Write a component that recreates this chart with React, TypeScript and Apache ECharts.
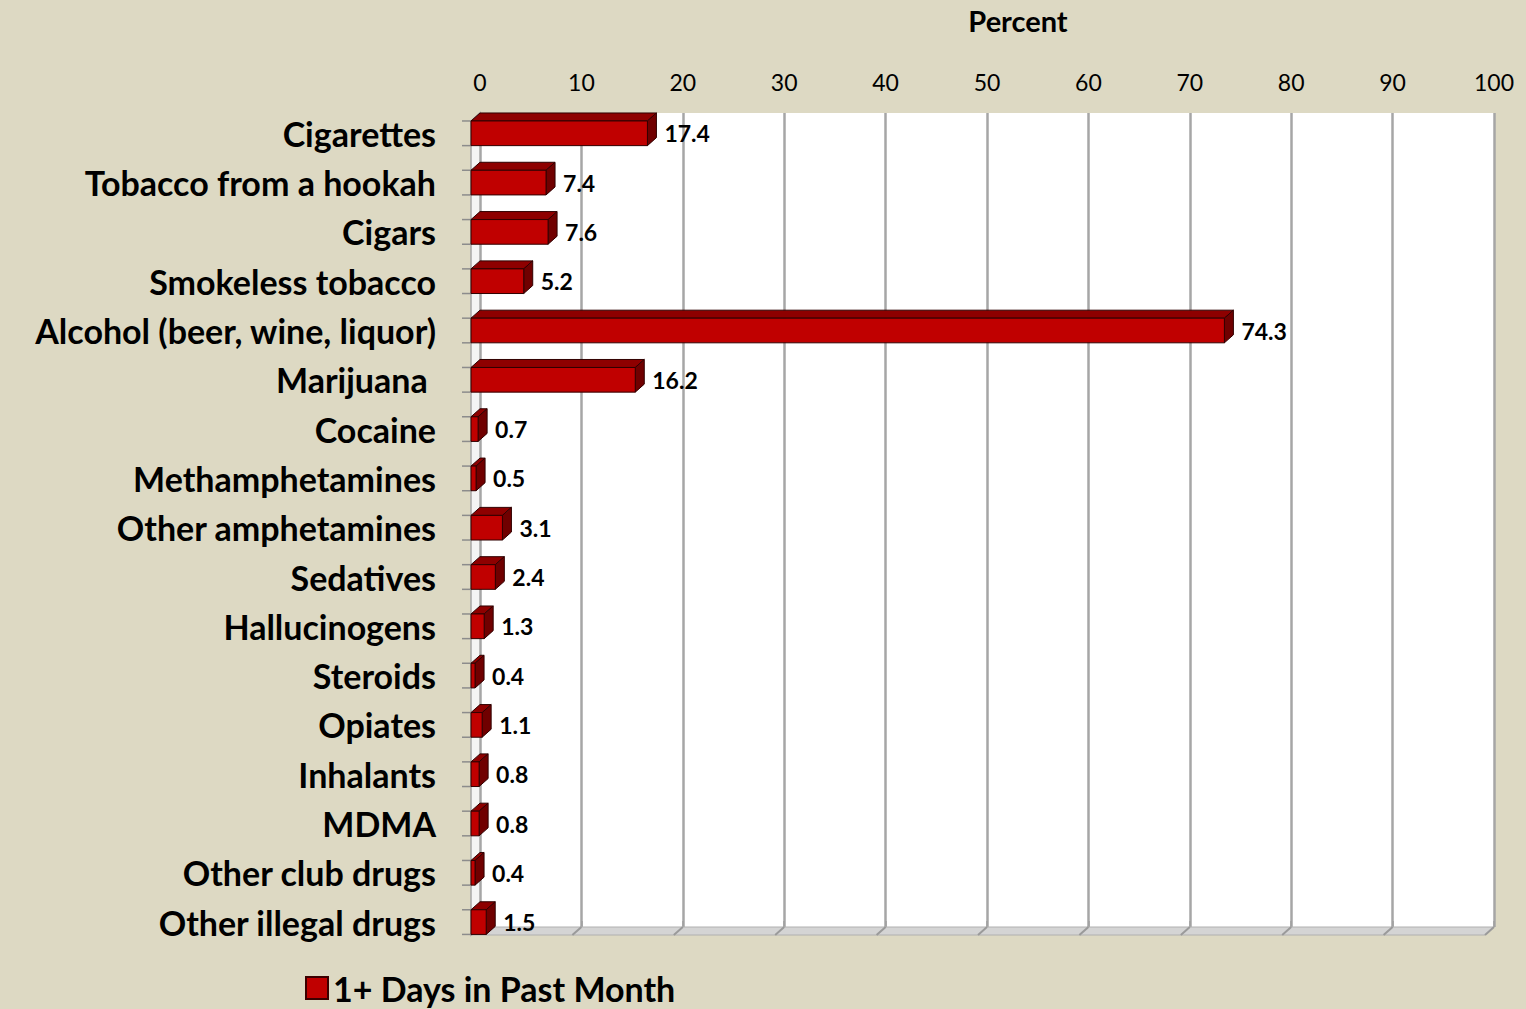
import React, { useEffect, useRef } from "react";
import * as echarts from "echarts";

const categories = [
  "Cigarettes",
  "Tobacco from a hookah",
  "Cigars",
  "Smokeless tobacco",
  "Alcohol (beer, wine, liquor)",
  "Marijuana ",
  "Cocaine",
  "Methamphetamines",
  "Other amphetamines",
  "Sedatives",
  "Hallucinogens",
  "Steroids",
  "Opiates",
  "Inhalants",
  "MDMA",
  "Other club drugs",
  "Other illegal drugs",
];
const values = [17.4, 7.4, 7.6, 5.2, 74.3, 16.2, 0.7, 0.5, 3.1, 2.4, 1.3, 0.4, 1.1, 0.8, 0.8, 0.4, 1.5];
const xTicks = [0, 10, 20, 30, 40, 50, 60, 70, 80, 90, 100];
const seriesName = "1+ Days in Past Month";
const axisTitle = "Percent";

const DX = 9;
const DY = 8;
const FONT = "Lato, 'Open Sans', sans-serif";

export default function App() {
  const ref = useRef<HTMLDivElement>(null);
  useEffect(() => {
    if (!ref.current) return;
    const chart = echarts.init(ref.current, undefined, { renderer: "svg" });
    const option: any = {
      animation: false,
      backgroundColor: "#DDD9C3",
      textStyle: { fontFamily: FONT },
      graphic: [
        {
          type: "text",
          x: 1018,
          y: 20,
          style: {
            text: axisTitle,
            fontSize: 29,
            fontWeight: "bold",
            fontFamily: FONT,
            fill: "#000",
            align: "center",
            verticalAlign: "middle",
          },
        },
      ],
      legend: {
        data: [{ name: seriesName, icon: "rect" }],
        left: 300,
        top: 966,
        itemWidth: 22,
        itemHeight: 22,
        itemGap: 8,
        textStyle: { fontSize: 34, fontWeight: "bold", color: "#000", fontFamily: FONT },
      },
      grid: [
        { left: 480, right: 32, top: 113, bottom: 82, show: true, backgroundColor: "#fff", borderWidth: 0 },
        { left: 471, right: 41, top: 108.65, bottom: 62.25 },
      ],
      xAxis: [
        {
          gridIndex: 0,
          type: "value",
          position: "top",
          min: 0,
          max: 100,
          interval: 10,
          axisLine: { show: false },
          axisTick: { show: true, length: 6, lineStyle: { color: "#a0a0a0", width: 1.5 } },
          axisLabel: { fontSize: 23, color: "#000", margin: 20, fontFamily: FONT },
          splitLine: { show: true, lineStyle: { color: "#a6a6a6", width: 2.5 } },
        },
        { gridIndex: 1, type: "value", min: 0, max: 100, show: false },
      ],
      yAxis: [
        { gridIndex: 0, type: "value", min: 0, max: 1, show: false },
        {
          gridIndex: 1,
          type: "category",
          inverse: true,
          data: categories,
          axisLine: { show: false },
          axisTick: { show: false },
          axisLabel: {
            interval: 0,
            fontSize: 34,
            fontWeight: "bold",
            color: "#000",
            margin: 35,
            fontFamily: FONT,
          },
          splitLine: { show: false },
        },
      ],
      series: [
        {
          type: "custom",
          xAxisIndex: 0,
          yAxisIndex: 0,
          silent: true,
          data: xTicks.map((v) => [v, 0]),
          renderItem: (params: any, api: any) => {
            const cs = params.coordSys;
            const yb = cs.y + cs.height;
            const x = api.coord([api.value(0), 0])[0];
            const children: any[] = [];
            if (params.dataIndex === 0) {
              children.push({
                type: "polygon",
                shape: {
                  points: [
                    [cs.x - DX, cs.y + DY],
                    [cs.x, cs.y],
                    [cs.x, yb],
                    [cs.x - DX, yb + DY],
                  ],
                },
                style: { fill: "#f4f4f4", stroke: "#a6a6a6", lineWidth: 1.5 },
              });
              children.push({
                type: "polygon",
                shape: {
                  points: [
                    [cs.x - DX, yb + DY],
                    [cs.x, yb],
                    [cs.x + cs.width, yb],
                    [cs.x + cs.width - DX, yb + DY],
                  ],
                },
                style: { fill: "#d4d4d4", stroke: "#b0b0b0", lineWidth: 1 },
              });
            }
            children.push({
              type: "line",
              shape: { x1: x, y1: yb, x2: x - DX, y2: yb + DY },
              style: { stroke: "#9a9a9a", lineWidth: 2 },
            });
            return { type: "group", children };
          },
        },
        {
          type: "custom",
          name: seriesName,
          xAxisIndex: 1,
          yAxisIndex: 1,
          itemStyle: { color: "#C00000", borderColor: "#3b0000", borderWidth: 1 },
          encode: { x: 0, y: 1 },
          data: values.map((v, i) => [v, i]),
          renderItem: (params: any, api: any) => {
            const v = api.value(0);
            const ci = api.value(1);
            const p0 = api.coord([0, ci]);
            const p1 = api.coord([v, ci]);
            const h = api.size([0, 1])[1] * 0.5;
            const x0 = p0[0];
            const x1 = p1[0];
            const yTop = p0[1] - h / 2;
            const yBot = yTop + h;
            const stroke = "#300000";
            return {
              type: "group",
              children: [
                {
                  type: "line",
                  shape: { x1: x0 - DX, y1: yTop, x2: x0, y2: yTop },
                  style: { stroke: "#8c8c8c", lineWidth: 1.5 },
                },
                {
                  type: "line",
                  shape: { x1: x0 - DX, y1: yBot, x2: x0, y2: yBot },
                  style: { stroke: "#8c8c8c", lineWidth: 1.5 },
                },
                {
                  type: "polygon",
                  shape: {
                    points: [
                      [x0, yTop],
                      [x0 + DX, yTop - DY],
                      [x1 + DX, yTop - DY],
                      [x1, yTop],
                    ],
                  },
                  style: { fill: "#8E0000", stroke, lineWidth: 1 },
                },
                {
                  type: "polygon",
                  shape: {
                    points: [
                      [x1, yTop],
                      [x1 + DX, yTop - DY],
                      [x1 + DX, yBot - DY],
                      [x1, yBot],
                    ],
                  },
                  style: { fill: "#700000", stroke, lineWidth: 1 },
                },
                {
                  type: "rect",
                  shape: { x: x0, y: yTop, width: x1 - x0, height: h },
                  style: { fill: "#C00000", stroke, lineWidth: 1 },
                },
                {
                  type: "text",
                  x: x1 + DX + 8,
                  y: (yTop + yBot) / 2,
                  style: {
                    text: v.toFixed(1),
                    fontSize: 23,
                    fontWeight: "bold",
                    fontFamily: FONT,
                    fill: "#000",
                    align: "left",
                    verticalAlign: "middle",
                  },
                },
              ],
            };
          },
        },
      ],
    };
    chart.setOption(option);
    return () => chart.dispose();
  }, []);
  return (
    <div
      ref={ref}
      style={{ position: "fixed", left: 0, top: 0, width: 1526, height: 1009 }}
    />
  );
}
